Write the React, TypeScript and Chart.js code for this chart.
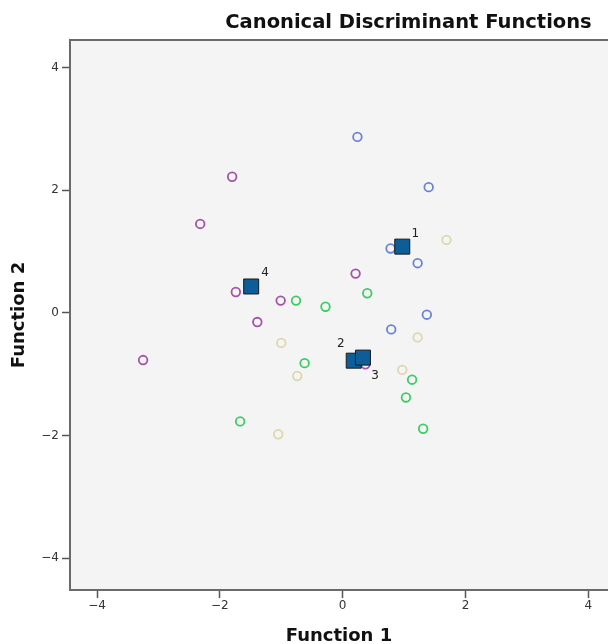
import React, { useEffect, useRef } from "react";
import { Chart, registerables } from "chart.js";

Chart.register(...registerables);

const chartTitle = "Canonical Discriminant Functions";
const xTitle = "Function 1";
const yTitle = "Function 2";

const tickValues = [-4, -2, 0, 2, 4];
const tickLabels = ["\u22124", "\u22122", "0", "2", "4"];

const group1X = [0.24, 1.4, 0.78, 1.22, 1.37, 0.79];
const group1Y = [2.87, 2.05, 1.05, 0.81, -0.03, -0.27];

const group2X = [0.4, -0.76, -0.28, -0.62, 1.13, 1.03, 1.31, -1.67];
const group2Y = [0.32, 0.2, 0.1, -0.82, -1.09, -1.38, -1.89, -1.77];

const group3X = [1.69, 1.22, -1.0, -0.74, 0.97, -1.05];
const group3Y = [1.19, -0.4, -0.49, -1.03, -0.93, -1.98];

const group4X = [-1.8, -2.32, 0.21, -1.74, -1.01, -1.39, -3.25, 0.37];
const group4Y = [2.22, 1.45, 0.64, 0.34, 0.2, -0.15, -0.77, -0.84];

const centroidLabels = ["1", "2", "3", "4"];
const centroidX = [0.97, 0.18, 0.33, -1.49];
const centroidY = [1.08, -0.78, -0.73, 0.43];

const FONT = "'DejaVu Sans', sans-serif";

function pts(xs: number[], ys: number[]) {
  return xs.map((x, i) => ({ x, y: ys[i] }));
}

const labelOffsets: Record<string, [number, number]> = {
  "1": [13, -13],
  "2": [-13, -17],
  "3": [12, 18],
  "4": [14, -14],
};

const decorPlugin = {
  id: "decor",
  beforeDraw(chart: any) {
    const { ctx, chartArea } = chart;
    ctx.save();
    ctx.fillStyle = "#f4f4f4";
    ctx.fillRect(chartArea.left, chartArea.top, chartArea.right - chartArea.left, chartArea.bottom - chartArea.top);
    ctx.restore();
  },
  afterDraw(chart: any) {
    const { ctx, chartArea } = chart;
    ctx.save();
    ctx.strokeStyle = "#6a6a6a";
    ctx.lineWidth = 2;
    ctx.beginPath();
    ctx.moveTo(chartArea.left - 1, chartArea.top);
    ctx.lineTo(chartArea.right, chartArea.top);
    ctx.stroke();

    ctx.fillStyle = "#111";
    ctx.font = `bold 19.5px ${FONT}`;
    ctx.textAlign = "center";
    ctx.textBaseline = "alphabetic";
    ctx.fillText(chartTitle, 408.5, 27.5);

    const xs = chart.scales.x;
    const ys = chart.scales.y;
    ctx.font = `12px ${FONT}`;
    ctx.fillStyle = "#222";
    ctx.textBaseline = "middle";
    centroidLabels.forEach((lab, i) => {
      const px = xs.getPixelForValue(centroidX[i]);
      const py = ys.getPixelForValue(centroidY[i]);
      const off = labelOffsets[lab];
      ctx.fillText(lab, px + off[0], py + off[1]);
    });
    ctx.restore();
  },
};

export default function App() {
  const ref = useRef<HTMLCanvasElement>(null);
  useEffect(() => {
    if (!ref.current) return;
    const circle = (color: string) => ({
      pointStyle: "circle",
      pointRadius: 4.3,
      pointBorderWidth: 1.8,
      pointBorderColor: color,
      pointBackgroundColor: "rgba(0,0,0,0)",
      borderColor: color,
      backgroundColor: "rgba(0,0,0,0)",
      pointHoverRadius: 4.3,
    });
    const axisCommon = (titleText: string, isY: boolean) => ({
      type: "linear" as const,
      afterBuildTicks: (scale: any) => {
        scale.ticks = tickValues.map((v) => ({ value: v }));
      },
      ticks: {
        callback: (v: any) => {
          const idx = tickValues.indexOf(Number(v));
          return idx >= 0 ? tickLabels[idx] : "";
        },
        font: { family: FONT, size: 12 },
        color: "#333",
        padding: isY ? 3 : 1,
      },
      grid: {
        drawOnChartArea: false,
        drawTicks: true,
        tickLength: 8,
        tickColor: "#555",
        tickWidth: 1.5,
      },
      border: { display: true, color: "#6a6a6a", width: 2 },
      title: {
        display: true,
        text: titleText,
        color: "#111",
        font: { family: FONT, size: 18, weight: "bold" as const, lineHeight: 1 },
        padding: isY ? { top: 10.5, bottom: 0 } : { top: 0, bottom: -1 },
      },
    });
    const chart = new Chart(ref.current, {
      type: "scatter",
      data: {
        datasets: [
          {
            label: "Group Centroid",
            data: pts(centroidX, centroidY),
            pointStyle: "rect",
            pointRadius: 10.6,
            pointHoverRadius: 10.6,
            pointBorderWidth: 1,
            pointBorderColor: "#1a1a1a",
            pointBackgroundColor: "#0d5e98",
            borderColor: "#1a1a1a",
            backgroundColor: "#0d5e98",
          } as any,
          { label: "1", data: pts(group1X, group1Y), ...circle("#6a84d2") } as any,
          { label: "2", data: pts(group2X, group2Y), ...circle("#3ccc63") } as any,
          { label: "3", data: pts(group3X, group3Y), ...circle("#dcd8ab") } as any,
          { label: "4", data: pts(group4X, group4Y), ...circle("#a354a8") } as any,
        ],
      },
      options: {
        responsive: false,
        animation: false,
        devicePixelRatio: 1,
        layout: { autoPadding: false, padding: { top: 40, right: 0, left: 0, bottom: 0 } },
        plugins: { legend: { display: false }, tooltip: { enabled: false }, title: { display: false } },
        scales: {
          x: {
            ...axisCommon(xTitle, false),
            min: -4.44,
            max: 4.32,
            afterFit: (scale: any) => {
              scale.height = 54;
              scale.paddingLeft = 0;
              scale.paddingRight = 0;
            },
          },
          y: {
            ...axisCommon(yTitle, true),
            min: -4.52,
            max: 4.45,
            afterFit: (scale: any) => {
              scale.width = 70;
              scale.paddingTop = 0;
              scale.paddingBottom = 0;
            },
          },
        },
      } as any,
      plugins: [decorPlugin],
    });
    return () => chart.destroy();
  }, []);
  return (
    <div style={{ position: "absolute", left: 0, top: 0, width: 608, height: 644 }}>
      <canvas ref={ref} width={608} height={644} style={{ display: "block" }} />
    </div>
  );
}
